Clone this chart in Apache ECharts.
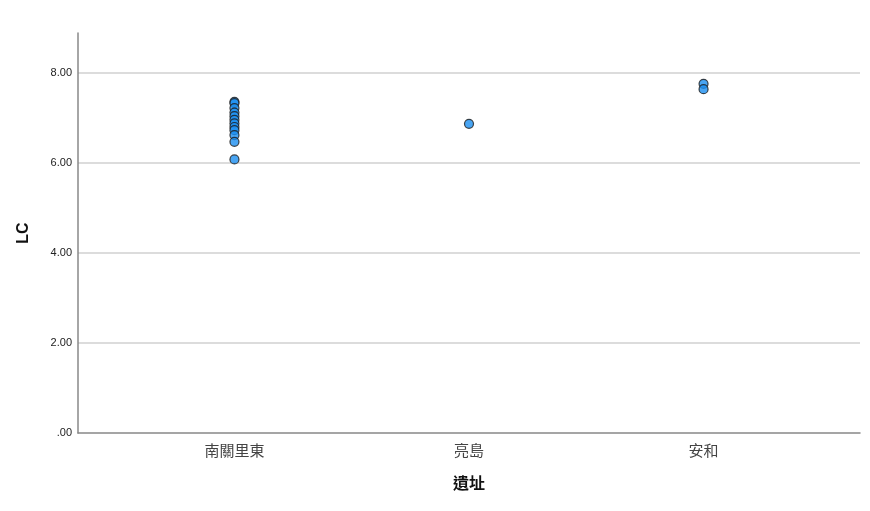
<!DOCTYPE html>
<html>
<head>
<meta charset="utf-8">
<title>LC</title>
<script src="https://cdn.jsdelivr.net/npm/echarts@6/dist/echarts.min.js"></script>
<style>
  html, body { margin: 0; padding: 0; background: #fff; }
  #chart { width: 870px; height: 511px; }
</style>
</head>
<body>
<div id="chart"></div>
<script>
/*
 * 遺址 LC 散點圖
 */

// 類別
var categories = ["南關里東", "亮島", "安和"];
// 各遺址 LC 值
var valuesNanguanli = [7.36, 7.33, 7.22, 7.12, 7.04, 6.96, 6.88, 6.80, 6.73, 6.62, 6.47, 6.08];
var valuesLiangdao = [6.87];
var valuesAnhe = [7.76, 7.64];
// y 軸刻度
var yTicks = [0, 2, 4, 6, 8];

var groups = [valuesNanguanli, valuesLiangdao, valuesAnhe];
var points = [];
groups.forEach(function (vals, i) {
  vals.forEach(function (v) {
    points.push([i, v]);
  });
});

function fmtY(v) {
  return v === 0 ? ".00" : v.toFixed(2);
}

var options = {
  animation: false,
  backgroundColor: "#fff",
  grid: { left: 78, right: 10, top: 33, bottom: 78 },
  xAxis: {
    type: "value",
    min: -0.667,
    max: 2.667,
    name: "遺址",
    nameLocation: "middle",
    nameGap: 42,
    nameTextStyle: {
      fontFamily: "Noto Sans CJK TC",
      fontWeight: "bold",
      fontSize: 16,
      color: "#111"
    },
    axisLine: { onZero: false, lineStyle: { color: "#888", width: 1.5 } },
    axisTick: { show: false },
    splitLine: { show: false },
    axisLabel: {
      customValues: [0, 1, 2],
      formatter: function (v) {
        return categories[Math.round(v)];
      },
      margin: 10,
      fontFamily: "Noto Sans CJK TC",
      fontSize: 15,
      color: "#444"
    }
  },
  yAxis: {
    type: "value",
    min: 0,
    max: 8.889,
    interval: 2,
    name: "LC",
    nameLocation: "middle",
    nameGap: 46,
    nameTextStyle: {
      fontFamily: "Liberation Sans",
      fontWeight: "bold",
      fontSize: 16,
      color: "#111"
    },
    axisLine: { show: true, onZero: false, lineStyle: { color: "#888", width: 1.5 } },
    axisTick: { show: false },
    splitLine: {
      showMinLine: false,
      showMaxLine: false,
      lineStyle: { color: "#d0d0d0", width: 1.5 }
    },
    axisLabel: {
      customValues: yTicks,
      formatter: fmtY,
      margin: 6,
      fontFamily: "Liberation Sans",
      fontSize: 11,
      color: "#222"
    }
  },
  series: [
    {
      type: "scatter",
      data: points,
      symbol: "circle",
      symbolSize: 9,
      itemStyle: {
        color: "#1b8ff0",
        borderColor: "#1a1a1a",
        borderWidth: 1.2
      }
    }
  ]
};

var myEchart = echarts.init(document.getElementById("chart"));
myEchart.setOption(options);
</script>
</body>
</html>
